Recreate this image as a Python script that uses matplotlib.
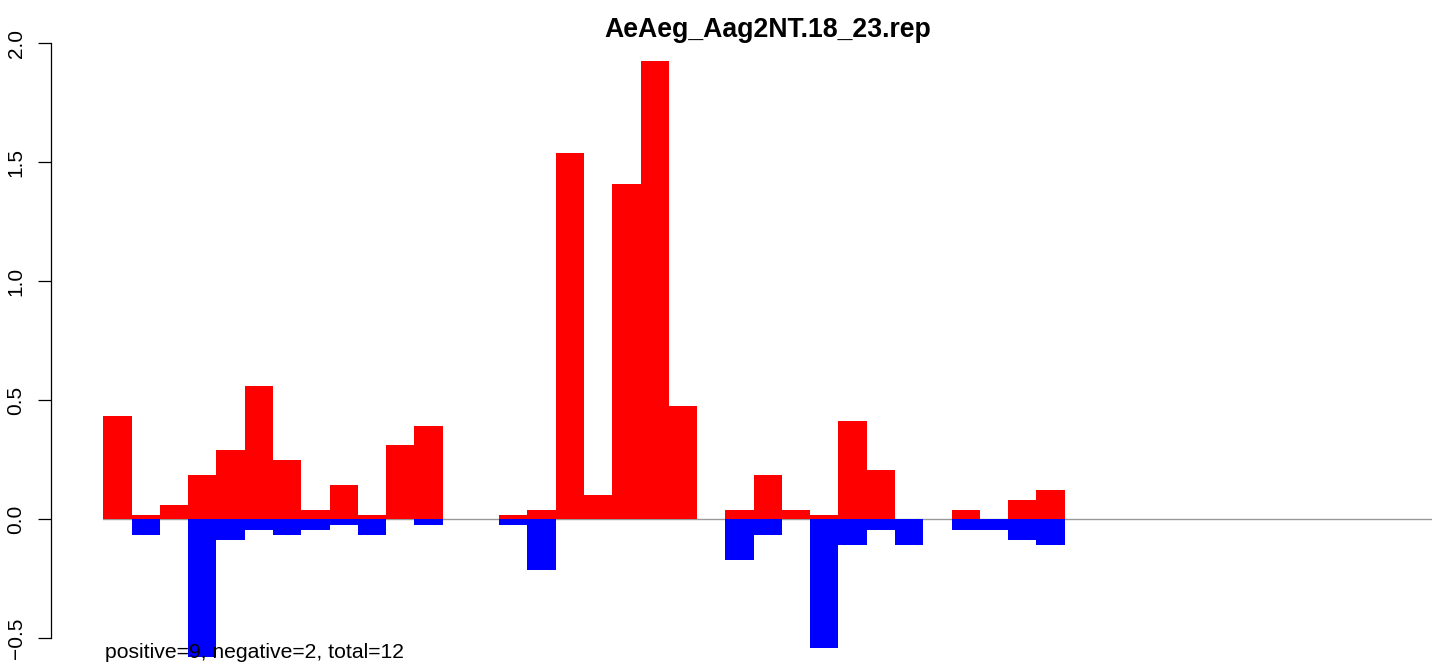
import numpy as np
import matplotlib
matplotlib.use("Agg")
import matplotlib.pyplot as plt

plt.rcParams["font.family"] = ["Liberation Sans", "DejaVu Sans"]

title = "AeAeg_Aag2NT.18_23.rep"
summary = "positive=9, negative=2, total=12"

# per-bin scores (47 bins)
positive = [0.435, 0.019, 0.061, 0.187, 0.292, 0.561, 0.250, 0.040, 0.145, 0.019,
            0.313, 0.393, 0.0, 0.0, 0.020, 0.040, 1.537, 0.104, 1.410, 1.926,
            0.476, 0.0, 0.039, 0.187, 0.039, 0.019, 0.413, 0.207, 0.0, 0.0,
            0.039, 0.0, 0.082, 0.124] + [0.0] * 13
negative = [0.0, -0.065, 0.0, -0.580, -0.086, -0.044, -0.065, -0.044, -0.023, -0.065,
            0.0, -0.023, 0.0, 0.0, -0.022, -0.211, 0.0, 0.0, 0.0, 0.0,
            0.0, 0.0, -0.171, -0.065, 0.0, -0.539, -0.107, -0.044, -0.107, 0.0,
            -0.044, -0.044, -0.086, -0.107] + [0.0] * 13
yticks = [-0.5, 0.0, 0.5, 1.0, 1.5, 2.0]

W, H, DPI = 1439, 667, 100
fig = plt.figure(figsize=(W / DPI, H / DPI), dpi=DPI)

left_px, right_px = 103.3, 1432.3
top_px, bottom_px = 43.3, 662.1
ax = fig.add_axes([left_px / W, 1 - bottom_px / H,
                   (right_px - left_px) / W, (bottom_px - top_px) / H])

x = np.arange(len(positive))
ax.axhline(0, color="#9a9a9a", lw=1.0, zorder=1)
ax.bar(x, positive, width=1.0, align="edge", color="#ff0000",
       linewidth=0, antialiased=False, zorder=2)
ax.bar(x, negative, width=1.0, align="edge", color="#0000ff",
       linewidth=0, antialiased=False, zorder=2)

ax.set_xlim(0, len(positive))
ax.set_ylim(-0.6, 2.0)

for side in ("top", "right", "bottom"):
    ax.spines[side].set_visible(False)
ax.spines["left"].set_position(("outward", 52.6 * 72 / DPI))
ax.spines["left"].set_bounds(yticks[0], yticks[-1])
ax.spines["left"].set_linewidth(0.9)
ax.set_xticks([])
ax.set_yticks(yticks)
ax.set_yticklabels([f"{v:.1f}".replace("-", "\u2212") for v in yticks])
ax.tick_params(axis="y", direction="out", length=9.6, width=0.9,
               pad=8.5, labelsize=15, labelrotation=90)
for lab in ax.get_yticklabels():
    lab.set_va("center")
ax.patch.set_visible(False)

ax.text(0.001, 4.4 / (bottom_px - top_px), summary, transform=ax.transAxes,
        ha="left", va="baseline", fontsize=15.2, color="black", zorder=5)

fig.text((left_px + right_px) / 2 / W, 1 - 37 / H, title, ha="center",
         va="baseline", fontsize=19.2, fontweight="bold")

fig.savefig("out.png", dpi=DPI)
